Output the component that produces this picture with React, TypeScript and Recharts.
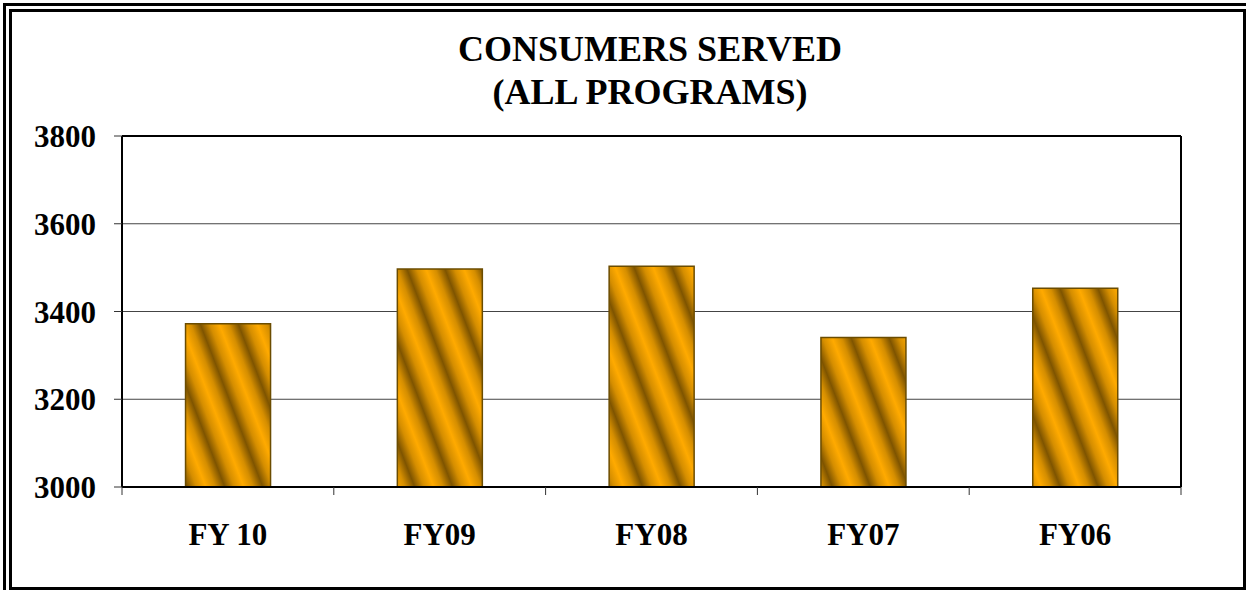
import React from 'react';
import { BarChart, Bar, XAxis, YAxis, CartesianGrid, ReferenceLine } from 'recharts';

const categories = ['FY 10', 'FY09', 'FY08', 'FY07', 'FY06'];
const consumers = [3372, 3497, 3503, 3341, 3453];
const yTicks = [3000, 3200, 3400, 3600, 3800];

const FONT = '"Liberation Serif", "Times New Roman", serif';

const chartData = categories.map((name, i) => ({ name, consumers: consumers[i] }));

const XTick = (props: any) => {
  const { x, y, payload, index } = props;
  const half = payload?.offset ?? 0;
  const last = index === categories.length - 1;
  return (
    <g>
      <line x1={x - half} x2={x - half} y1={y} y2={y + 8} stroke="#333" strokeWidth={1} />
      {last && <line x1={x + half} x2={x + half} y1={y} y2={y + 8} stroke="#333" strokeWidth={1} />}
      <text
        x={x}
        y={y}
        dy={58}
        textAnchor="middle"
        fill="#000"
        fontFamily={FONT}
        fontWeight="bold"
        fontSize={31}
      >
        {payload.value}
      </text>
    </g>
  );
};

export default function App() {
  return (
    <div
      style={{
        position: 'absolute',
        left: 0,
        top: 0,
        width: 1246,
        height: 590,
        overflow: 'hidden',
        background: '#fff',
      }}
    >
      {/* double frame */}
      <div
        style={{
          position: 'absolute',
          left: 3,
          top: 3,
          width: 1300,
          height: 700,
          borderLeft: '3px solid #000',
          borderTop: '3px solid #000',
        }}
      />
      <div
        style={{
          position: 'absolute',
          left: 9,
          top: 9,
          width: 1237,
          height: 581,
          boxSizing: 'border-box',
          border: '3px solid #000',
        }}
      />
      <div
        style={{
          position: 'absolute',
          left: 0,
          top: 28,
          width: 1300,
          textAlign: 'center',
          fontFamily: FONT,
          fontWeight: 'bold',
          fontSize: 36,
          lineHeight: '43px',
          color: '#000',
        }}
      >
        CONSUMERS SERVED
        <br />
        (ALL PROGRAMS)
      </div>
      <div style={{ position: 'absolute', left: 0, top: 0 }}>
        <BarChart
          width={1246}
          height={590}
          data={chartData}
          margin={{ top: 136, right: 64, left: 0, bottom: 43 }}
          barCategoryGap="30%"
        >
          <defs>
            <linearGradient
              id="goldStripes"
              gradientUnits="userSpaceOnUse"
              spreadMethod="repeat"
              x1={0}
              y1={0}
              x2={33.1}
              y2={-12.7}
            >
              <stop offset="0%" stopColor="#7e5400" />
              <stop offset="25%" stopColor="#d58e00" />
              <stop offset="50%" stopColor="#ffaa00" />
              <stop offset="75%" stopColor="#d58e00" />
              <stop offset="100%" stopColor="#7e5400" />
            </linearGradient>
          </defs>
          <CartesianGrid vertical={false} stroke="#444" strokeWidth={1} />
          <XAxis
            dataKey="name"
            axisLine={{ stroke: '#000', strokeWidth: 2 }}
            tickLine={false}
            tickSize={0}
            tickMargin={0}
            height={60}
            interval={0}
            tick={<XTick />}
          />
          <YAxis
            domain={[3000, 3800]}
            ticks={yTicks}
            allowDataOverflow
            width={122}
            axisLine={{ stroke: '#000', strokeWidth: 2 }}
            tickLine={{ stroke: '#333', strokeWidth: 1 }}
            tickSize={8}
            tickMargin={18}
            tick={{ fill: '#000', fontFamily: FONT, fontWeight: 'bold', fontSize: 31 }}
          />
          <YAxis
            yAxisId="right"
            orientation="right"
            domain={[3000, 3800]}
            width={1}
            tick={false}
            tickLine={false}
            axisLine={{ stroke: '#000', strokeWidth: 2 }}
          />
          <ReferenceLine y={3800} stroke="#000" strokeWidth={2} />
          <Bar
            dataKey="consumers"
            fill="url(#goldStripes)"
            stroke="#6b4c00"
            strokeWidth={1.5}
            isAnimationActive={false}
          />
        </BarChart>
      </div>
    </div>
  );
}
